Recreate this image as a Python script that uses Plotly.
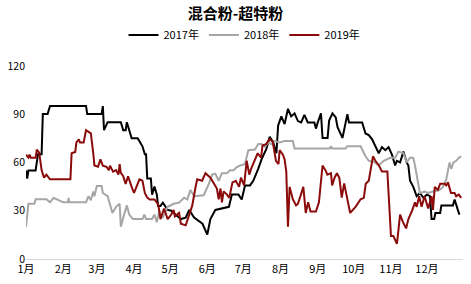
import pandas as pd
import plotly.graph_objects as go

# Day offsets from 1 January, and values
day_2017 = [0, 1, 2, 8, 9, 10, 13, 14, 18, 20, 50, 51, 63, 64, 65, 68, 79, 81, 83, 84, 86, 88, 93, 97, 99, 100, 101,
            104, 105, 107, 109, 110, 112, 114, 118, 121, 124.5, 129, 133, 136, 140, 147, 151, 153.6, 157.7, 163, 169,
            171.5, 177, 179.7, 182.4, 186.6, 189.3, 193.4, 196.2, 200.3, 203, 205.9, 208.6, 210, 212.7, 215.4,
            218.2, 220.9, 223.7, 226.5, 229.2, 231.9, 234.7, 240.2, 241.5, 243, 245.7, 247, 251.2, 252.5, 255.3,
            258, 259.5, 263.6, 266.3, 267.7, 269, 280, 282.8, 285.5, 288.3, 291, 293.8, 296.5, 299.3, 302, 304.8,
            307.5, 308.9, 311.6, 314.4, 317.1, 318.5, 319.9, 322.6, 325.4, 328.1, 331, 334, 336.5, 337.8, 340, 341,
            345, 346, 355.6, 357, 359.7, 361]
val_2017 = [55, 50, 55, 55, 60, 65, 65, 90, 90, 95, 95, 90, 90, 95, 80, 85, 85, 80, 80, 85, 80, 75, 75, 70, 65, 65, 50,
            50, 40, 45, 40, 33, 33, 35, 30.5, 30, 27.6, 24.8, 25.7, 30.5, 25.7, 21.9, 15.2, 24.8, 30.5, 31.4, 32.4,
            40, 40, 37, 45.7, 45.7, 48.6, 56, 61.9, 68.6, 76, 72.4, 65.7, 82.9, 88.6, 83.8,
            93.3, 88.6, 90.5, 85.7, 84.8, 89.5, 84.8, 84.8, 81, 84.8, 90.5, 75.2, 75.2, 86, 90.5,
            88, 81.9, 75.2, 86, 90, 84.8, 84.8, 78, 77, 74.3, 69.5, 65.7, 69.5, 67.6, 69.5, 64.8,
            58.1, 61, 60, 66.7, 60, 58, 48.6, 44.8, 39, 41, 38, 40, 39, 24.8, 24.8, 28.6,
            28.6, 33.3, 33.3, 37, 30.5, 27.6]

day_2018 = [0, 1, 2, 7, 8, 17, 20, 23, 27, 31, 35, 35.5, 36, 50, 52, 54, 56, 57, 59, 63, 64, 68, 72, 75, 78, 79, 81,
            84, 86, 89, 97, 98.6, 100, 105, 107, 109, 111, 112, 114, 118, 123, 127.5, 131.7, 134.4, 137, 140, 148,
            152.3, 155, 157.7, 160.5, 163.2, 167.4, 170, 173, 175.6, 178.4, 182.4, 185.2, 190.7, 193.5, 196.2, 198.9,
            201.7, 204.4, 207.2, 211.3, 215.4, 222.3, 223.7, 253, 254, 255, 266, 267.7, 278.7, 282.8, 285.5, 289.6,
            293.8, 297.9, 303.4, 307.5, 310.2, 314.4, 317.1, 319.9, 322.6, 324, 328.1, 332.2, 335, 339, 344.6,
            347.3, 350.1, 352.8, 354.2, 356, 358.3, 360.5, 362.5]
val_2018 = [20, 28.6, 34.3, 34.3, 37.1, 37.1, 35.2, 38, 36.5, 35.2, 35.2, 38, 35.2, 35.2, 39, 36.5, 41.9, 39, 45.3,
            45.3, 41, 39, 28.6, 32.4, 34.3, 20, 25.7, 33.3, 27.6, 24.8, 24.8, 27.6, 24.8, 24.8, 27.6, 22.9, 30, 27,
            26, 32.4, 34.3, 35, 38.1, 37, 42.9, 39, 39.6, 46.7, 52.4, 53, 48.6, 53.3, 53.3, 55.2, 55.2, 57.1, 58.1,
            59, 67.6, 68, 71.4, 71.4, 69.5, 72.4, 71.4, 73.3, 72.4, 73.3, 73.3, 68.6, 68.6, 70, 68.6, 68.6, 70, 70,
            63.8, 61, 60.5, 58.1, 61, 62.9, 62.9, 66.7, 65.7, 60, 62.9, 62.9, 58.1, 41, 41.9, 41, 41.9, 42.9, 44.8,
            49.5, 60, 56, 60, 61, 62.9, 63.8]

day_2019 = [0, 2, 3, 4, 8, 9, 11, 12, 13, 15, 17, 20, 37, 38, 41, 42, 44, 45, 48, 50, 54, 56, 57, 60, 62, 64, 67, 69,
            70, 72.5, 75, 77, 78, 79, 81, 83, 85, 88, 90, 92, 94.5, 97, 99, 101, 103, 107, 108, 110, 111, 112, 115,
            118, 121, 123, 124, 127.5, 129, 133, 136, 138.5, 141, 142.6, 146.7, 149.5, 153.6, 156.4, 159, 160.5, 162,
            163.2, 164.6, 167.4, 169.3, 172, 174.8, 177.5, 179, 181.7, 183.8, 186, 187.5, 190.3, 193, 195.8, 197,
            200, 202.7, 205.4, 208.2, 210.3, 211.3, 214, 215.4, 216.8, 218.2, 219.6, 222.3, 225, 226.5, 229, 231,
            233, 235, 237, 241.5, 244, 247, 250, 251, 254, 255, 257, 259, 261, 263, 265, 268, 270, 274.5, 278.7,
            281.4, 283, 285.5, 287.5, 289, 291, 294, 296.5, 301, 304, 306, 309, 311.6, 314, 316.6, 318.5, 321.3, 324,
            325.4, 327.5, 329.5, 332, 335, 337.8, 339, 340.5, 343, 345, 348.7, 350, 351.5, 354, 357, 358.3, 360.5,
            362.5]
val_2019 = [64.8, 63, 64.8, 62.9, 62.9, 68, 66, 60, 55.2, 50.5, 52.4, 49.5, 49.5, 65.7, 66.5, 72.4, 74.3, 72.4, 72.4,
            80, 78, 66, 58.1, 57.3, 61.9, 58, 57.3, 55.2, 58, 54.3, 55.2, 52.4, 59, 53.5, 51.4, 46.7, 51.4, 44.8, 41,
            44.8, 49.5, 48.6, 41, 38.1, 37, 37, 36, 34, 30, 24.8, 31.4, 24.8, 27.6, 30.5, 26.5, 28.6, 21.9, 20.9,
            27.6, 33.3, 43.8, 49.5, 48.6, 53.3, 50.5, 46.7, 43.8, 37.1, 43.8, 35.2, 42, 40, 38, 47.6, 48.6, 44.8,
            50.5, 45.7, 61, 52.4, 56, 61, 65.7, 62.9, 70.5, 71.4, 74.3, 73.3, 61, 59, 67.6, 64.8, 61.9, 54.3, 20,
            44.8, 37, 33.3, 34.3, 40, 44.8, 28.6, 35.2, 29.5, 29.5, 35.2, 58.1, 54.3, 52.4, 53.3, 45.7, 50.5, 53.3,
            50.5, 38.1, 47, 36.5, 28.6, 32.4, 37.1, 38, 46.7, 48.6, 59, 63.8, 61, 58.1, 54.3, 54.3, 14.3, 14.3, 9.5,
            27.6, 22.9, 19, 24.8, 29.5, 35.2, 32.4, 39, 32.4, 39, 31.4, 39, 30.5, 44.8, 42.9, 46.7, 46.7, 45.7,
            47.6, 41, 41, 39, 40, 38]

series_names = ["2017年", "2018年", "2019年"]
series_colors = ["#000000", "#A6A6A6", "#8B0A0A"]
month_labels = [f"{m}月" for m in range(1, 13)]

base = pd.Timestamp("2019-01-01")


def to_dates(days):
    return [base + pd.Timedelta(days=float(d)) for d in days]


fig = go.Figure()
for name, days, vals, color in zip(series_names, [day_2017, day_2018, day_2019],
                                   [val_2017, val_2018, val_2019], series_colors):
    fig.add_trace(go.Scatter(x=to_dates(days), y=vals, mode="lines", name=name,
                             line=dict(color=color, width=2)))

month_starts = [pd.Timestamp(2019, m, 1) for m in range(1, 13)]

fig.update_layout(
    width=471, height=284,
    margin=dict(l=22, r=8, t=55, b=19),
    paper_bgcolor="white", plot_bgcolor="white",
    font=dict(family="Noto Sans CJK SC, DejaVu Sans", size=11, color="#000000"),
    title=dict(text="<b>混合粉-超特粉</b>", x=0.5, xanchor="center", y=1 - 14 / 284, yref="container",
               yanchor="middle", font=dict(size=15, color="#000000", family="Noto Sans CJK SC")),
    legend=dict(orientation="h", x=0.5, xanchor="center", y=1 - 35 / 284, yref="container",
                yanchor="middle", font=dict(size=11), itemwidth=30, tracegroupgap=0,
                bgcolor="rgba(0,0,0,0)"),
    showlegend=True,
)
fig.update_xaxes(range=[base, base + pd.Timedelta(days=364)], tickvals=month_starts, ticktext=month_labels,
                 showgrid=False, zeroline=False, showline=True, linecolor="#D9D9D9", linewidth=1,
                 ticks="", tickfont=dict(size=11))
fig.update_yaxes(range=[0, 120], tickvals=[0, 30, 60, 90, 120], showgrid=False, zeroline=False,
                 showline=False, ticks="", tickfont=dict(size=10.5), ticklabelstandoff=0)

fig.write_html("out.html")
